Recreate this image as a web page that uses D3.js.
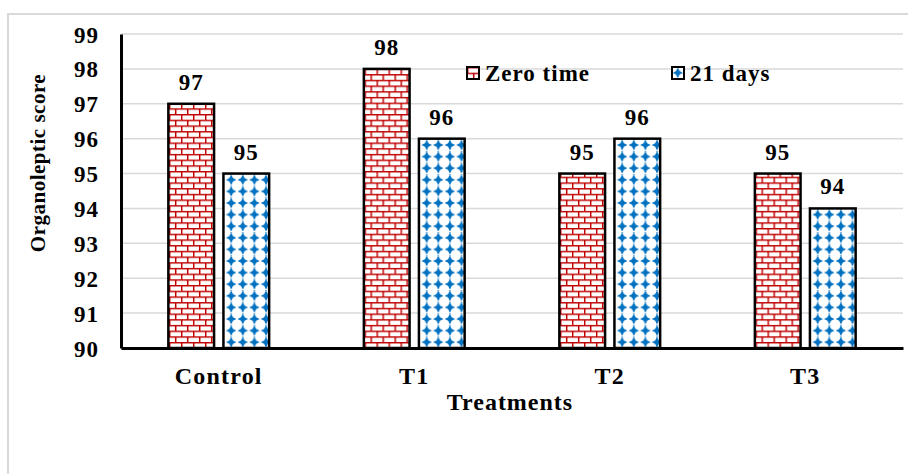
<!DOCTYPE html>
<html>
<head>
<meta charset="utf-8">
<script src="https://cdn.jsdelivr.net/npm/d3@7"></script>
<style>
  body { margin: 0; background: #fff; }
  text { font-family: "Liberation Serif", "Times New Roman", serif; font-weight: bold; fill: #000; }
</style>
</head>
<body>
<div id="okvir"></div>
<script>
// podaci
const kategorije = ["Control", "T1", "T2", "T3"];
const serije = ["Zero time", "21 days"];
const zeroTime = [97, 98, 95, 95];
const days21 = [95, 96, 96, 94];
const yTicks = [90, 91, 92, 93, 94, 95, 96, 97, 98, 99];

const sirina = 908, visina = 474;
const plot = { left: 121, right: 903, top: 34, bottom: 348 };

const svg = d3.select("#okvir").append("svg")
    .attr("width", sirina)
    .attr("height", visina);

// uzorci (patterns)
const defs = svg.append("defs");
const cigla = defs.append("pattern")
    .attr("id", "cigla")
    .attr("patternUnits", "userSpaceOnUse")
    .attr("width", 12).attr("height", 11.4);
cigla.append("rect").attr("width", 12).attr("height", 11.4).attr("fill", "#fff");
cigla.append("path")
    .attr("d", "M0,0.7H12M0,6.4H12M0.7,0V6.4M6.7,6.4V11.4")
    .attr("stroke", "#c00000").attr("stroke-width", 1.5).attr("fill", "none");

const tocke = defs.append("pattern")
    .attr("id", "tocke")
    .attr("patternUnits", "userSpaceOnUse")
    .attr("width", 11.6).attr("height", 11.6);
tocke.append("rect").attr("width", 11.6).attr("height", 11.6).attr("fill", "#fff");
tocke.append("path")
    .attr("d", "M5.8,0.6L7.6,4L11,5.8L7.6,7.6L5.8,11L4,7.6L0.6,5.8L4,4Z")
    .attr("fill", "#0070c0");
tocke.append("path")
    .attr("d", "M5.8,0V11.6")
    .attr("stroke", "#0070c0").attr("stroke-width", 1).attr("stroke-dasharray", "1,2");

const boje = { "Zero time": "url(#cigla)", "21 days": "url(#tocke)" };

// okvir
svg.append("rect")
    .attr("x", 8).attr("y", 14)
    .attr("width", 920).attr("height", 500)
    .attr("fill", "none").attr("stroke", "#d9d9d9").attr("stroke-width", 2);

// skale
const x0 = d3.scaleBand()
    .domain(kategorije)
    .range([plot.left, plot.right]);

const x1 = d3.scaleBand()
    .domain(serije)
    .range([0, x0.bandwidth()])
    .paddingInner(0.17)
    .paddingOuter(0.86);

const y = d3.scaleLinear()
    .domain([90, 99])
    .range([plot.bottom, plot.top]);

// mreza
svg.append("g")
    .selectAll("line")
    .data(yTicks.slice(1))
    .join("line")
    .attr("x1", plot.left).attr("x2", plot.right)
    .attr("y1", d => y(d)).attr("y2", d => y(d))
    .attr("stroke", "#d9d9d9").attr("stroke-width", 1.5);

// stupci
const podaci = kategorije.map((k, i) => ({
    kategorija: k,
    vrijednosti: [
        { serija: "Zero time", v: zeroTime[i] },
        { serija: "21 days", v: days21[i] }
    ]
}));

const grupe = svg.append("g")
    .selectAll("g")
    .data(podaci)
    .join("g")
    .attr("transform", d => `translate(${x0(d.kategorija)},0)`);

grupe.selectAll("rect")
    .data(d => d.vrijednosti)
    .join("rect")
    .attr("x", d => x1(d.serija))
    .attr("y", d => y(d.v))
    .attr("width", x1.bandwidth())
    .attr("height", d => y(90) - y(d.v))
    .attr("fill", d => boje[d.serija])
    .attr("stroke", "#000")
    .attr("stroke-width", 2.5);

grupe.selectAll("text")
    .data(d => d.vrijednosti)
    .join("text")
    .attr("x", d => x1(d.serija) + x1.bandwidth() / 2)
    .attr("y", d => y(d.v) - 14)
    .attr("text-anchor", "middle")
    .style("font-size", "23px")
    .style("letter-spacing", "1px")
    .text(d => d.v);

// osi
const yOs = svg.append("g")
    .attr("transform", `translate(${plot.left},0)`)
    .call(d3.axisLeft(y).tickValues(yTicks).tickSize(0).tickPadding(22).tickFormat(d3.format("d")));
yOs.select(".domain").attr("stroke", "#000").attr("stroke-width", 3);
yOs.selectAll("text")
    .attr("dy", "0.35em")
    .style("font-size", "23px")
    .style("letter-spacing", "1px")
    .style("font-family", "Liberation Serif").style("font-weight", "bold");

const xOs = svg.append("g")
    .attr("transform", `translate(0,${plot.bottom})`)
    .call(d3.axisBottom(x0).tickSize(0).tickPadding(19));
xOs.select(".domain").attr("stroke", "#000").attr("stroke-width", 3);
xOs.selectAll("text")
    .attr("dy", "0.71em")
    .style("font-size", "24px")
    .style("letter-spacing", "1.2px")
    .style("font-family", "Liberation Serif").style("font-weight", "bold");

// naslovi osi
svg.append("text")
    .attr("x", (plot.left + plot.right) / 2 - 2)
    .attr("y", 410)
    .attr("text-anchor", "middle")
    .style("font-size", "24px")
    .style("letter-spacing", "1px")
    .text("Treatments");

svg.append("text")
    .attr("transform", "translate(45,163) rotate(-90)")
    .attr("text-anchor", "middle")
    .style("font-size", "21px")
    .style("letter-spacing", "0.5px")
    .text("Organoleptic score");

// legenda
const legendaX = [467, 672];
const legenda = svg.append("g")
    .selectAll("g")
    .data(serije)
    .join("g")
    .attr("transform", (d, i) => `translate(${legendaX[i]},67)`);
legenda.append("rect")
    .attr("width", 12).attr("height", 12)
    .attr("fill", d => boje[d])
    .attr("stroke", "#000").attr("stroke-width", 2);
legenda.append("text")
    .attr("x", 18).attr("y", 14)
    .style("font-size", "23px")
    .style("letter-spacing", "1px")
    .text(d => d);
</script>
</body>
</html>
